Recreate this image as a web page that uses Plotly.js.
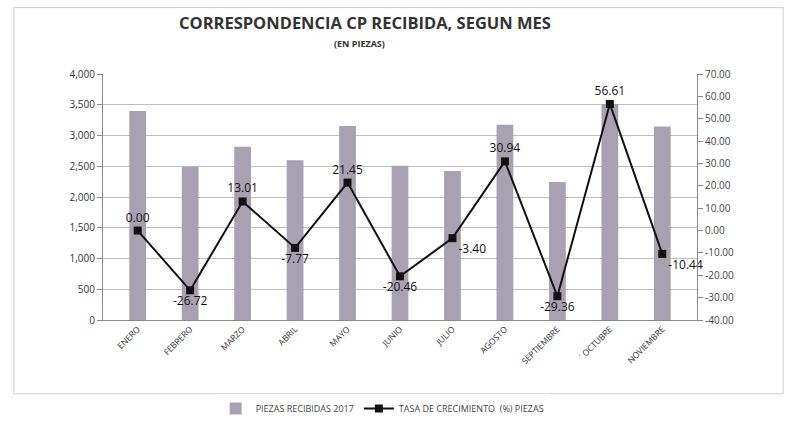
<!DOCTYPE html>
<html><head><meta charset="utf-8">
<script src="https://cdn.plot.ly/plotly-3.0.1.min.js"></script>
<style>body{margin:0;background:#fff}#c{width:788px;height:422px}</style>
</head><body><div id="c"></div>
<script>
const months = ["ENERO","FEBRERO","MARZO","ABRIL","MAYO","JUNIO","JULIO","AGOSTO","SEPTIEMBRE","\u00b4 OCTUBRE","NOVIEMBRE"];
const piezas = [3400, 2492, 2816, 2597, 3154, 2509, 2424, 3174, 2242, 3511, 3145];
const tasa = [0.00, -26.72, 13.01, -7.77, 21.45, -20.46, -3.40, 30.94, -29.36, 56.61, -10.44];
const tasaLabels = ["0.00","-26.72","13.01","-7.77","21.45","-20.46","-3.40","30.94","-29.36","56.61","-10.44"];
const labelPos = ["top center","bottom center","top center","bottom center","top center","bottom center","bottom right","top center","bottom center","top center","bottom right"];
const leftTicks = [0,500,1000,1500,2000,2500,3000,3500,4000];
const rightTicks = [-40,-30,-20,-10,0,10,20,30,40,50,60,70];

const F = "Open Sans, Liberation Sans, sans-serif";
const traces = [
  {type:"bar", x:months, y:piezas, name:"PIEZAS RECIBIDAS 2017", width:0.32,
   marker:{color:"#a8a2b0", line:{width:0}}, yaxis:"y"},
  {type:"scatter", mode:"lines+markers+text", x:months, y:tasa, name:"TASA DE CRECIMIENTO  (%) PIEZAS",
   yaxis:"y2", line:{color:"#111", width:2}, marker:{symbol:"square", size:8, color:"#111"},
   text:tasaLabels, textposition:labelPos, textfont:{family:F, size:12, color:"#111"}, cliponaxis:false}
];
const layout = {
  width:788, height:422, margin:{l:103, r:91, t:74, b:102, autoexpand:false},
  paper_bgcolor:"#fff", plot_bgcolor:"#fff", font:{family:F, color:"#333"},
  showlegend:true, bargap:0.68,
  legend:{orientation:"h", x:0.47, xanchor:"center", y:-0.36, yanchor:"middle", font:{size:9, color:"#444"}},
  xaxis:{tickangle:-45, tickfont:{size:8.5, color:"#333"}, showline:true, linecolor:"#888", ticks:"", showgrid:false, automargin:false},
  yaxis:{range:[0,4000], tickvals:leftTicks, ticktext:leftTicks.map(v=>v.toLocaleString("en-US")), automargin:false,
    showgrid:true, gridcolor:"#bdbdbd", showline:true, linecolor:"#888", ticks:"outside", ticklen:5, tickcolor:"#888",
    tickfont:{size:10, color:"#333"}, zeroline:false},
  yaxis2:{range:[-40,70], overlaying:"y", side:"right", tickvals:rightTicks, ticktext:rightTicks.map(v=>v.toFixed(2)), automargin:false,
    showgrid:false, showline:true, linecolor:"#888", ticks:"outside", ticklen:5, tickcolor:"#888",
    tickfont:{size:10, color:"#444"}, zeroline:false},
  annotations:[
    {text:"<b>CORRESPONDENCIA CP RECIBIDA, SEGUN MES</b>", xref:"paper", yref:"paper", x:0.441, y:1, yshift:52, xanchor:"center", yanchor:"middle", showarrow:false, font:{size:16.5, color:"#333", family:F}},
    {text:"<b>(EN PIEZAS)</b>", xref:"paper", yref:"paper", x:0.432, y:1, yshift:31, xanchor:"center", yanchor:"middle", showarrow:false, font:{size:9, color:"#333", family:F}}
  ],
  shapes:[{type:"rect", xref:"paper", yref:"paper", x0:-0.15, x1:1.145, y0:-0.3, y1:1.27, line:{color:"#ccc", width:1}}]
};
Plotly.newPlot("c", traces, layout, {displayModeBar:false, staticPlot:true});
</script></body></html>
